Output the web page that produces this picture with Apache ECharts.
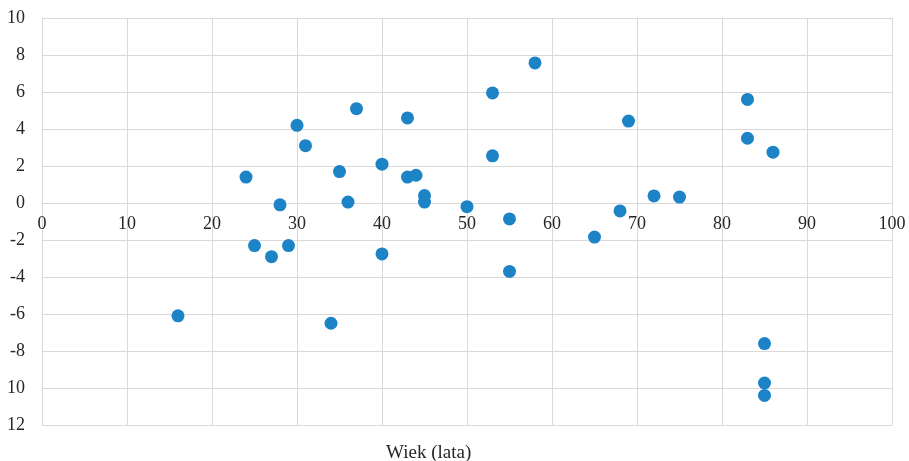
<!DOCTYPE html>
<html>
<head>
<meta charset="utf-8">
<script src="https://cdn.jsdelivr.net/npm/echarts@6/dist/echarts.min.js"></script>
<style>html,body{margin:0;padding:0;background:#fff}#c{width:909px;height:461px}</style>
</head>
<body>
<div id="c"></div>
<script>
var ages = [16, 24, 25, 27, 28, 29, 30, 31, 34, 35, 36, 37, 40, 40, 43, 43, 44, 45, 45, 50, 53, 53, 55, 55, 58, 65, 68, 69, 72, 75, 83, 83, 86, 85, 85, 85];
var values = [-6.1, 1.4, -2.3, -2.9, -0.1, -2.3, 4.2, 3.1, -6.5, 1.7, 0.05, 5.1, 2.1, -2.75, 4.6, 1.4, 1.5, 0.4, 0.05, -0.2, 5.95, 2.55, -0.86, -3.7, 7.57, -1.84, -0.43, 4.43, 0.38, 0.32, 5.6, 3.5, 2.75, -7.6, -9.73, -10.4];
var yTickValues = [-12, -10, -8, -6, -4, -2, 0, 2, 4, 6, 8, 10];
var yTickLabels = ['12', '10', '-8', '-6', '-4', '-2', '0', '2', '4', '6', '8', '10'];
var xAxisTitle = 'Wiek (lata)';

var points = ages.map(function (a, i) { return [a, values[i]]; });
var chart = echarts.init(document.getElementById('c'));
var font = '"Liberation Serif", "Times New Roman", serif';
chart.setOption({
  animation: false,
  grid: { left: 42, right: 17, top: 18, bottom: 36, containLabel: false },
  xAxis: {
    type: 'value', min: 0, max: 100, interval: 10,
    offset: -222,
    axisLine: { show: true, onZero: false, lineStyle: { color: '#d9d9d9', width: 1 } },
    axisTick: { show: false },
    splitLine: { show: true, lineStyle: { color: '#d9d9d9', width: 1 } },
    axisLabel: { color: '#262626', fontFamily: font, fontSize: 18, margin: 12 }
  },
  yAxis: {
    type: 'value', min: -12, max: 10, interval: 2,
    axisLine: { show: true, lineStyle: { color: '#d9d9d9', width: 1 } },
    axisTick: { show: false },
    splitLine: { show: true, lineStyle: { color: '#d9d9d9', width: 1 } },
    axisLabel: {
      color: '#262626', fontFamily: font, fontSize: 18, margin: 17,
      formatter: function (v) { var i = yTickValues.indexOf(v); return i >= 0 ? yTickLabels[i] : String(v); }
    }
  },
  graphic: [{
    type: 'text', left: 386, top: 444,
    style: { text: xAxisTitle, fill: '#262626', font: '19px ' + font }
  }],
  series: [{
    type: 'scatter', data: points, symbolSize: 13,
    itemStyle: { color: '#1c84c6', opacity: 1 }
  }]
});
</script>
</body>
</html>
